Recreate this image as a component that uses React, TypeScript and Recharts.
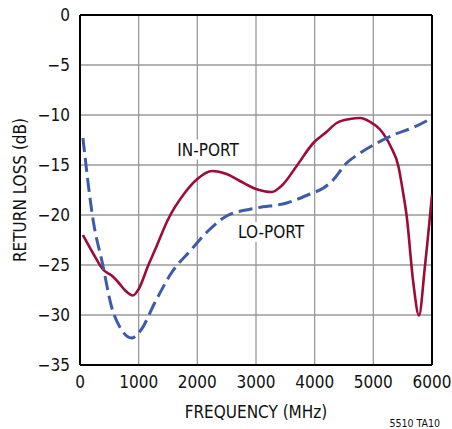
import React from 'react';
import { LineChart, Line, XAxis, YAxis, CartesianGrid, ReferenceLine, ReferenceDot, Label } from 'recharts';

const inPortFreq = [50, 220, 392, 550, 648, 780, 900, 1000, 1159, 1300, 1500, 1784, 2000, 2250, 2500, 2727, 3000, 3267, 3450, 3693, 3977, 4200, 4375, 4600, 4773, 4950, 5114, 5300, 5426, 5500, 5568, 5682, 5778, 5880, 6000];
const inPortLoss = [-22.0, -23.8, -25.45, -26.1, -26.7, -27.6, -28.05, -27.4, -25.1, -23.2, -20.45, -17.8, -16.4, -15.6, -15.9, -16.6, -17.4, -17.7, -17.0, -15.1, -12.8, -11.7, -10.8, -10.4, -10.3, -10.7, -11.45, -13.2, -15.1, -17.5, -20.1, -26.8, -30.05, -25.1, -18.0];

const loPortFreq = [50, 222, 392, 534, 705, 875, 1045, 1273, 1557, 1898, 2182, 2500, 3011, 3523, 3920, 4150, 4300, 4545, 4750, 5000, 5341, 5700, 6000];
const loPortLoss = [-12.3, -20.45, -25.1, -29.1, -31.45, -32.3, -31.45, -28.8, -25.8, -23.45, -21.6, -20.1, -19.3, -18.8, -17.9, -17.3, -16.6, -14.8, -13.9, -13.0, -12.0, -11.2, -10.3];

const xTicks = [0, 1000, 2000, 3000, 4000, 5000, 6000];
const yTicks = [0, -5, -10, -15, -20, -25, -30, -35];

const seriesNames = ['IN-PORT', 'LO-PORT'];
const xTitle = 'FREQUENCY (MHz)';
const yTitle = 'RETURN LOSS (dB)';
const footnote = '5510 TA10';

const inPortData = inPortFreq.map((f, i) => ({ f, v: inPortLoss[i] }));
const loPortData = loPortFreq.map((f, i) => ({ f, v: loPortLoss[i] }));

const FONT = "'Liberation Sans Narrow', 'Arial Narrow', 'DejaVu Sans Condensed', Roboto, sans-serif";
const RED = '#9E0B37';
const BLUE = '#3D5BA9';

const fmtY = (v: number) => (v === 0 ? '0' : '\u2212' + Math.abs(v));

const makeTag = (text: string, w: number) => (p: any) => (
  <g>
    <rect x={p.cx - w / 2} y={p.cy - 10} width={w} height={20} fill="#fff" />
    <text x={p.cx} y={p.cy} textAnchor="middle" dominantBaseline="central" fontFamily={FONT} fontSize={17} fill="#111">
      {text}
    </text>
  </g>
);

export default function App() {
  return (
    <div style={{ position: 'absolute', left: 0, top: 0, width: 452, height: 429, background: '#fff' }}>
      <LineChart width={452} height={429} margin={{ top: 15, right: 20, bottom: 0, left: 0 }}>
        <CartesianGrid stroke="#9a9a9a" strokeWidth={1.3} />
        <XAxis
          type="number"
          dataKey="f"
          domain={[0, 6000]}
          ticks={xTicks}
          height={64}
          axisLine={false}
          tickLine={false}
          tickSize={9}
          tickMargin={2}
          tick={{ fill: '#111', fontSize: 17, fontFamily: FONT }}
          allowDataOverflow
        >
          <Label
            content={() => (
              <g>
                <text x={256} y={418} textAnchor="middle" fontFamily={FONT} fontSize={17} fill="#111">{xTitle}</text>
                <text x={440} y={427} textAnchor="end" fontFamily={FONT} fontSize={10.5} fill="#111">{footnote}</text>
              </g>
            )}
          />
        </XAxis>
        <YAxis
          type="number"
          domain={[-35, 0]}
          ticks={yTicks}
          width={80}
          axisLine={false}
          tickLine={false}
          tickSize={8}
          tickMargin={2}
          tickFormatter={fmtY}
          tick={{ fill: '#111', fontSize: 17, fontFamily: FONT }}
          allowDataOverflow
        >
          <Label
            content={() => (
              <text x={26} y={190} transform="rotate(-90, 26, 190)" textAnchor="middle" fontFamily={FONT} fontSize={17} fill="#111">
                {yTitle}
              </text>
            )}
          />
        </YAxis>
        <ReferenceLine y={0} stroke="#000" strokeWidth={2} />
        <ReferenceLine y={-35} stroke="#000" strokeWidth={2} />
        <ReferenceLine x={0} stroke="#000" strokeWidth={2} />
        <ReferenceLine x={6000} stroke="#000" strokeWidth={2} />
        <ReferenceDot x={2182} y={-13.45} r={0} shape={makeTag(seriesNames[0], 66)} />
        <ReferenceDot x={3256} y={-21.7} r={0} shape={makeTag(seriesNames[1], 70)} />
        <Line data={inPortData} dataKey="v" type="monotone" stroke={RED} strokeWidth={2.6} dot={false} isAnimationActive={false} />
        <Line data={loPortData} dataKey="v" type="monotone" stroke={BLUE} strokeWidth={3} strokeDasharray="14 6" dot={false} isAnimationActive={false} />
      </LineChart>
    </div>
  );
}
